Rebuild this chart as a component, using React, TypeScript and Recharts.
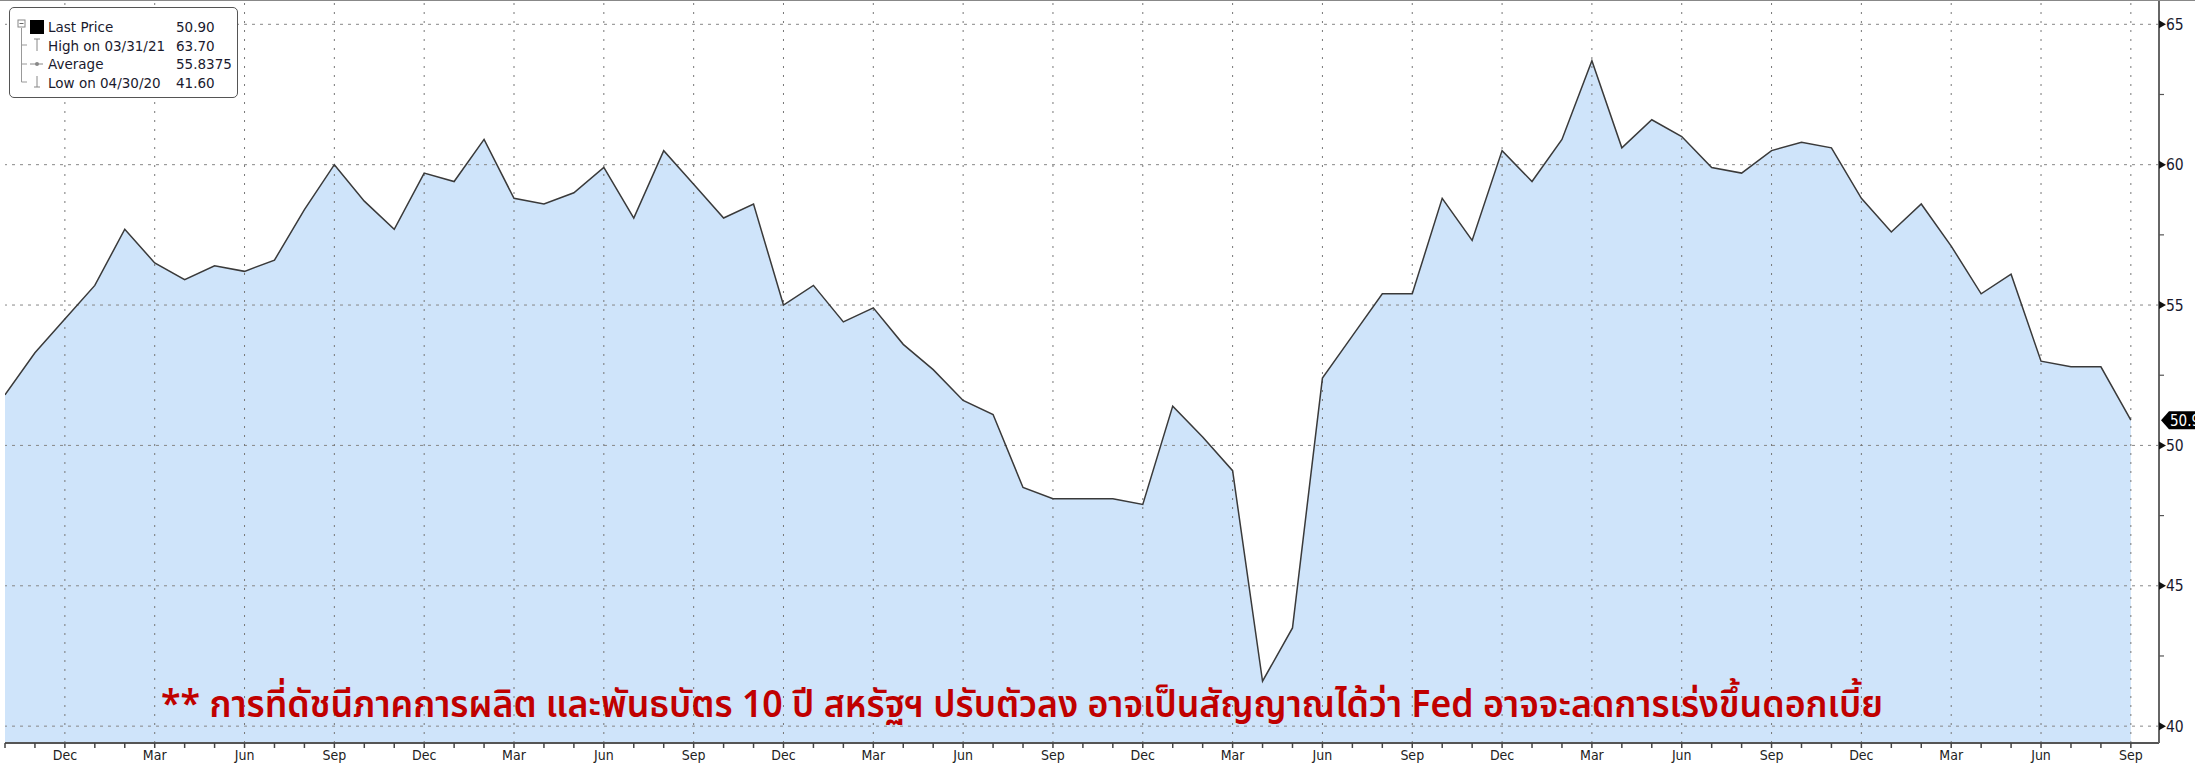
import { ComposedChart, Area, Line, XAxis, YAxis, ReferenceLine } from 'recharts'

// monthly readings, Oct 2016 .. Sep 2022
const START_MONTH = 9
const monthNames = ['Jan', 'Feb', 'Mar', 'Apr', 'May', 'Jun', 'Jul', 'Aug', 'Sep', 'Oct', 'Nov', 'Dec']
const labeledMonths = ['Dec', 'Mar', 'Jun', 'Sep']
const pmi = [
  51.8, 53.3, 54.5, 55.7, 57.7, 56.5, 55.9, 56.4, 56.2, 56.6, 58.4, 60.0,
  58.7, 57.7, 59.7, 59.4, 60.9, 58.8, 58.6, 59.0, 59.9, 58.1, 60.5, 59.3,
  58.1, 58.6, 55.0, 55.7, 54.4, 54.9, 53.6, 52.7, 51.6, 51.1, 48.5, 48.1,
  48.1, 48.1, 47.9, 51.4, 50.3, 49.1, 41.6, 43.5, 52.4, 53.9, 55.4, 55.4,
  58.8, 57.3, 60.5, 59.4, 60.9, 63.7, 60.6, 61.6, 61.0, 59.9, 59.7, 60.5,
  60.8, 60.6, 58.8, 57.6, 58.6, 57.1, 55.4, 56.1, 53.0, 52.8, 52.8, 50.9,
]
const yTicks = [40, 42.5, 45, 47.5, 50, 52.5, 55, 57.5, 60, 62.5, 65]
const gridValues = [40, 45, 50, 55, 60, 65]

const legendRows = [
  { label: 'Last Price', value: '50.90' },
  { label: 'High on 03/31/21', value: '63.70' },
  { label: 'Average', value: '55.8375' },
  { label: 'Low on 04/30/20', value: '41.60' },
]
const note = '** การที่ดัชนีภาคการผลิต และพันธบัตร 10 ปี สหรัฐฯ ปรับตัวลง อาจเป็นสัญญาณได้ว่า Fed อาจจะลดการเร่งขึ้นดอกเบี้ย'

const data = pmi.map((v, i) => ({ i, v }))
const monthTicks = pmi.map((_, i) => i)
const monthOf = (i: number) => monthNames[(START_MONTH + i) % 12]
const majorTicks = monthTicks.filter((i) => labeledMonths.includes(monthOf(i)))

const axisFont = "'DejaVu Sans Condensed', 'DejaVu Sans', sans-serif"
const narrowFont = "'Liberation Sans Narrow', 'DejaVu Sans Condensed', sans-serif"

function XTick({ x, y, payload }: any) {
  const name = monthOf(payload.value)
  const major = labeledMonths.includes(name)
  return (
    <g>
      <line x1={x} x2={x} y1={y} y2={y + 5} stroke="#444" strokeWidth={1.5} />
      {major && (
        <text x={x} y={y + 17} textAnchor="middle" fontSize={14} fill="#222" fontFamily={narrowFont}>
          {name}
        </text>
      )}
    </g>
  )
}

function YTick({ x, y, payload }: any) {
  const v = payload.value
  if (v % 5 !== 0) return <line x1={x} x2={x + 5} y1={y} y2={y} stroke="#555" strokeWidth={1.2} />
  return (
    <g>
      <path d={`M${x} ${y - 4}L${x + 7} ${y}L${x} ${y + 4}Z`} fill="#111" />
      <text x={x + 7} y={y} dy="0.36em" fontSize={15.5} fill="#1a1a2e" fontFamily={axisFont}>
        {v}
      </text>
    </g>
  )
}

function LastTag({ viewBox }: any) {
  const x = viewBox.x + viewBox.width + 2
  const y = viewBox.y
  return (
    <g>
      <path d={`M${x} ${y}L${x + 8} ${y - 9}L${x + 40} ${y - 9}L${x + 40} ${y + 9}L${x + 8} ${y + 9}Z`} fill="#000" />
      <text x={x + 9} y={y} dy="0.36em" fontSize={15} fill="#fff" fontFamily={axisFont}>
        {pmi[pmi.length - 1]}
      </text>
    </g>
  )
}

function LegendBox() {
  return (
    <div
      style={{
        position: 'absolute', left: 9, top: 6, width: 227, height: 89,
        border: '1.5px solid #555', borderRadius: 5, background: '#fff',
        fontFamily: "'DejaVu Sans', sans-serif", fontSize: 13.5, color: '#1a1a2e',
      }}
    >
      <svg width={40} height={89} style={{ position: 'absolute', left: 0, top: 0 }}>
        <line x1={11.5} x2={11.5} y1={20} y2={74} stroke="#999" />
        <line x1={11.5} x2={17} y1={37} y2={37} stroke="#999" />
        <line x1={11.5} x2={17} y1={56} y2={56} stroke="#999" />
        <line x1={11.5} x2={17} y1={74} y2={74} stroke="#999" />
        <rect x={8} y={12} width={7} height={7} fill="#fff" stroke="#888" />
        <line x1={9.5} x2={13.5} y1={15.5} y2={15.5} stroke="#666" />
        <rect x={20} y={12} width={14} height={14} fill="#000" />
        <line x1={24} x2={30} y1={31} y2={31} stroke="#888" />
        <line x1={27} x2={27} y1={31} y2={43} stroke="#888" />
        <line x1={20} x2={33} y1={56} y2={56} stroke="#888" />
        <circle cx={27} cy={56} r={2} fill="#888" />
        <line x1={27} x2={27} y1={68} y2={79} stroke="#888" />
        <line x1={24} x2={30} y1={79} y2={79} stroke="#888" />
      </svg>
      {legendRows.map((r, k) => (
        <div key={r.label} style={{ position: 'absolute', left: 38, top: 10 + k * 18.5, whiteSpace: 'nowrap', lineHeight: '18px' }}>
          {r.label}
        </div>
      ))}
      {legendRows.map((r, k) => (
        <div key={r.value} style={{ position: 'absolute', left: 166, top: 10 + k * 18.5, whiteSpace: 'nowrap', lineHeight: '18px' }}>
          {r.value}
        </div>
      ))}
    </div>
  )
}

export default function App() {
  return (
    <div style={{ position: 'absolute', left: 0, top: 0, width: 2195, height: 764, background: '#fff', borderTop: '1.5px solid #888', boxSizing: 'border-box' }}>
      <ComposedChart width={2195} height={763} data={data} margin={{ top: 0, right: 0, bottom: 0, left: 5 }}>
        <XAxis
          dataKey="i" type="number" domain={[0, 71.94]} allowDataOverflow ticks={monthTicks} interval={0}
          height={21} tickSize={0} tickMargin={0} axisLine={{ stroke: '#555', strokeWidth: 2 }} tickLine={false}
          tick={<XTick />}
        />
        <YAxis
          orientation="right" type="number" domain={[39.4, 65.83]} allowDataOverflow ticks={yTicks} interval={0}
          width={36} tickSize={0} tickMargin={0} axisLine={{ stroke: '#666', strokeWidth: 2 }} tickLine={false}
          tick={<YTick />}
        />
        <Area dataKey="v" type="linear" fill="#cfe4fa" fillOpacity={1} stroke="none" baseValue="dataMin" isAnimationActive={false} />
        {gridValues.map((g) => (
          <ReferenceLine key={'h' + g} y={g} stroke="#888" strokeDasharray="3 5" strokeWidth={1} />
        ))}
        {majorTicks.map((t) => (
          <ReferenceLine key={'v' + t} x={t} stroke="#777" strokeDasharray="2 7" strokeWidth={1} />
        ))}
        <Line dataKey="v" type="linear" stroke="#3a3a3a" strokeWidth={1.5} dot={false} activeDot={false} isAnimationActive={false} />
        <ReferenceLine y={pmi[pmi.length - 1]} stroke="none" label={<LastTag />} />
      </ComposedChart>
      <LegendBox />
      <svg width={2195} height={764} style={{ position: 'absolute', left: 0, top: 0, pointerEvents: 'none' }}>
        <text
          x={161} y={716} textLength={1722} lengthAdjust="spacingAndGlyphs" fontSize={38} fontWeight={600} fill="#c00000"
          fontFamily="'Noto Sans Thai', 'Noto Sans Thai Looped', 'Loma', 'Garuda', 'Kinnari', sans-serif"
        >
          {note}
        </text>
      </svg>
    </div>
  )
}
